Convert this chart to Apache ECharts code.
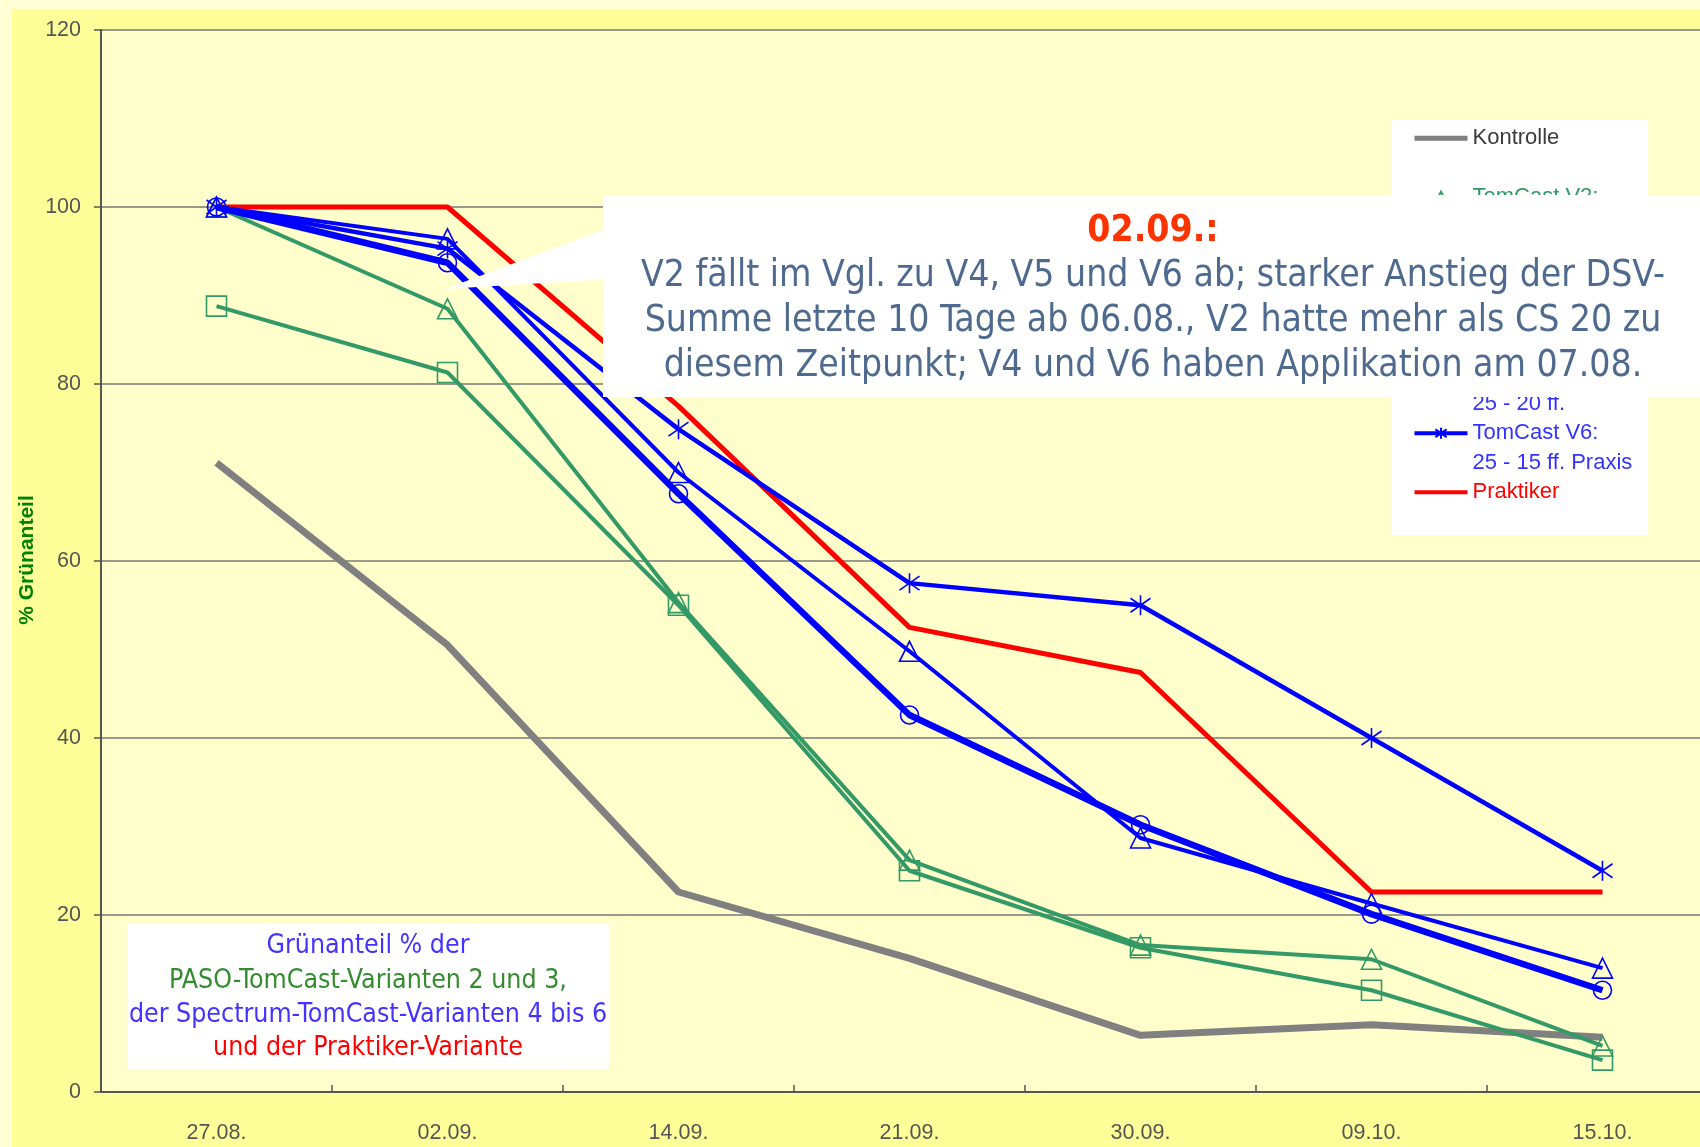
<!DOCTYPE html>
<html>
<head>
<meta charset="utf-8">
<script src="https://cdn.jsdelivr.net/npm/echarts@6/dist/echarts.min.js"></script>
<style>
html,body{margin:0;padding:0;background:#FFFFD5;width:1700px;height:1147px;overflow:hidden;}
#chart{position:absolute;left:12px;top:9px;width:1688px;height:1138px;}
</style>
</head>
<body>
<div id="chart"></div>
<script>
// ---- data ----
const categories = ['27.08.', '02.09.', '14.09.', '21.09.', '30.09.', '09.10.', '15.10.'];
const yTicks = [0, 20, 40, 60, 80, 100, 120];
const kontrolle = [71.1, 50.5, 22.6, 15.1, 6.4, 7.6, 6.2];
const tomcastV2 = [100, 88.5, 55.3, 26.2, 16.6, 15.0, 5.2];
const tomcastV3 = [88.8, 81.3, 55.0, 25.0, 16.3, 11.5, 3.6];
const tomcastV4 = [100, 93.7, 67.6, 42.6, 30.2, 20.1, 11.5];
const tomcastV5 = [100, 96.4, 70.0, 49.8, 28.7, 21.3, 14.0];
const tomcastV6 = [100, 95.3, 74.9, 57.5, 55.0, 40.0, 25.0];
const praktiker = [100, 100, 77.5, 52.5, 47.4, 22.6, 22.6];

const names = {
  k: 'Kontrolle',
  v2: 'TomCast V2:',
  v3: 'TomCast V3:',
  v4: 'TomCast V4:',
  v5: 'TomCast V5:\n25 - 20 ff.',
  v6: 'TomCast V6:\n25 - 15 ff. Praxis',
  p: 'Praktiker'
};
const annotTitle = '02.09.:';
const annotLines = [
  'V2 fällt im Vgl. zu V4, V5 und V6 ab; starker Anstieg der DSV-',
  'Summe letzte 10 Tage ab 06.08., V2 hatte mehr als CS 20 zu',
  'diesem Zeitpunkt; V4 und V6 haben Applikation am 07.08.'
];
const noteLines = [
  'Grünanteil % der',
  'PASO-TomCast-Varianten 2 und 3,',
  'der Spectrum-TomCast-Varianten 4 bis 6',
  'und der Praktiker-Variante'
];
const yTitle = '% Grünanteil';

// ---- styles ----
const GREEN = '#339966', BLUE = '#0000FF', RED = '#FF0000', GRAY = '#808080';
const STAR = 'path://M10,0L10,20M2,3L18,17M2,17L18,3';
const hollow = 'rgba(0,0,0,0)';
const axisFont = "'Liberation Sans',Arial,sans-serif";
const condFont = "'DejaVu Sans Condensed','DejaVu Sans',sans-serif";

function lineSeries(name, data, color, width, symbol, size, z) {
  return {
    name: name, type: 'line', data: data, z: z,
    symbol: symbol || 'none', symbolSize: size || 0, showSymbol: !!symbol,
    lineStyle: { color: color, width: width },
    itemStyle: { color: symbol ? hollow : color, borderColor: color, borderWidth: 1.6 },
    emphasis: { disabled: true },
    animation: false
  };
}

const chart = echarts.init(document.getElementById('chart'), null, { renderer: 'canvas' });

const noSym = { opacity: 0 };
const option = {
  backgroundColor: '#FFFF99',
  animation: false,
  grid: { left: 89, top: 21, width: 1617, height: 1062, show: true, backgroundColor: '#FFFFCC', borderWidth: 0, outerBoundsMode: 'none', containLabel: false },
  xAxis: {
    type: 'category', data: categories, boundaryGap: true,
    axisLine: { lineStyle: { color: '#555', width: 2 } },
    axisTick: { show: true, inside: true, length: 7, lineStyle: { color: '#555', width: 1.5 } },
    axisLabel: { color: '#555', fontFamily: axisFont, fontSize: 21.5, margin: 30 },
    splitLine: { show: false }
  },
  yAxis: {
    type: 'value', min: yTicks[0], max: yTicks[yTicks.length - 1], interval: 20,
    axisLine: { show: true, lineStyle: { color: '#555', width: 2 } },
    axisTick: { show: true, inside: false, length: 7, lineStyle: { color: '#555', width: 1.5 } },
    axisLabel: { color: '#555', fontFamily: axisFont, fontSize: 21.5, margin: 20 },
    splitLine: { show: true, lineStyle: { color: '#777', width: 1.5 } }
  },
  legend: {
    orient: 'vertical', left: 1400, top: 85, padding: 0,
    itemWidth: 53, itemHeight: 14, itemGap: -29.5,
    selectedMode: false, z: 5,
    formatter: function (n) { return '\u00a0\n' + (n.indexOf('\n') >= 0 ? n : n + '\n\u00a0'); },
    textStyle: { fontFamily: "'Liberation Sans',Arial,sans-serif", fontSize: 22, lineHeight: 29.5 },
    data: [
      { name: names.k, textStyle: { color: '#3A3A3A' }, itemStyle: noSym, lineStyle: { color: GRAY, width: 5 } },
      { name: names.v2, textStyle: { color: GREEN }, lineStyle: { color: GREEN, width: 2 } },
      { name: names.v3, textStyle: { color: GREEN }, lineStyle: { color: GREEN, width: 2 } },
      { name: names.v4, textStyle: { color: '#3333FF' }, lineStyle: { color: BLUE, width: 4 } },
      { name: names.v5, textStyle: { color: '#3333FF' }, lineStyle: { color: BLUE, width: 4 } },
      { name: names.v6, textStyle: { color: '#3333FF' }, lineStyle: { color: BLUE, width: 4 } },
      { name: names.p, textStyle: { color: RED }, itemStyle: noSym, lineStyle: { color: RED, width: 4 } }
    ]
  },
  series: [
    lineSeries(names.k, kontrolle, GRAY, 7, null, 0, 2),
    lineSeries(names.v3, tomcastV3, GREEN, 4, 'rect', 20, 3),
    lineSeries(names.v2, tomcastV2, GREEN, 4, 'triangle', 20, 3),
    lineSeries(names.p, praktiker, RED, 5, null, 0, 3),
    lineSeries(names.v4, tomcastV4, BLUE, 6.5, 'circle', 18, 4),
    lineSeries(names.v5, tomcastV5, BLUE, 4, 'triangle', 20, 4),
    lineSeries(names.v6, tomcastV6, BLUE, 4.5, STAR, 20, 4)
  ],
  graphic: [
    // legend box
    { type: 'rect', z: 3, shape: { x: 1379, y: 111, width: 257, height: 415 }, style: { fill: '#FFFFFF' } },
    // annotation callout
    { type: 'polygon', z: 20, shape: { points: [[433, 280], [596, 219], [596, 270]] }, style: { fill: '#FFFFFF' } },
    { type: 'rect', z: 20, shape: { x: 591, y: 186, width: 1120, height: 202 }, style: { fill: '#FFFFFF' } },
    { type: 'text', z: 21, x: 1141, y: 222, style: { text: annotTitle, fill: '#FF3300', font: "bold 37px " + condFont, align: 'center', verticalAlign: 'middle' } },
    { type: 'text', z: 21, x: 1141, y: 267, style: { text: annotLines[0], fill: '#4E6A8F', font: "37px " + condFont, align: 'center', verticalAlign: 'middle' } },
    { type: 'text', z: 21, x: 1141, y: 312, style: { text: annotLines[1], fill: '#4E6A8F', font: "37px " + condFont, align: 'center', verticalAlign: 'middle' } },
    { type: 'text', z: 21, x: 1141, y: 357, style: { text: annotLines[2], fill: '#4E6A8F', font: "37px " + condFont, align: 'center', verticalAlign: 'middle' } },
    // bottom-left note
    { type: 'rect', z: 20, shape: { x: 115, y: 915, width: 482, height: 145 }, style: { fill: '#FFFFFF' } },
    { type: 'text', z: 21, x: 356, y: 937, style: { text: noteLines[0], fill: '#4433FF', font: "26.5px " + condFont, align: 'center', verticalAlign: 'middle' } },
    { type: 'text', z: 21, x: 356, y: 972, style: { text: noteLines[1], fill: '#338C2E', font: "26.5px " + condFont, align: 'center', verticalAlign: 'middle' } },
    { type: 'text', z: 21, x: 356, y: 1006, style: { text: noteLines[2], fill: '#4433FF', font: "26.5px " + condFont, align: 'center', verticalAlign: 'middle' } },
    { type: 'text', z: 21, x: 356, y: 1039, style: { text: noteLines[3], fill: '#FF0000', font: "26.5px " + condFont, align: 'center', verticalAlign: 'middle' } },
    // y axis title
    { type: 'text', z: 21, x: 15, y: 551, rotation: Math.PI / 2, style: { text: yTitle, fill: '#008000', font: "bold 21px " + axisFont, align: 'center', verticalAlign: 'middle' } }
  ]
};
chart.setOption(option);
</script>
</body>
</html>
